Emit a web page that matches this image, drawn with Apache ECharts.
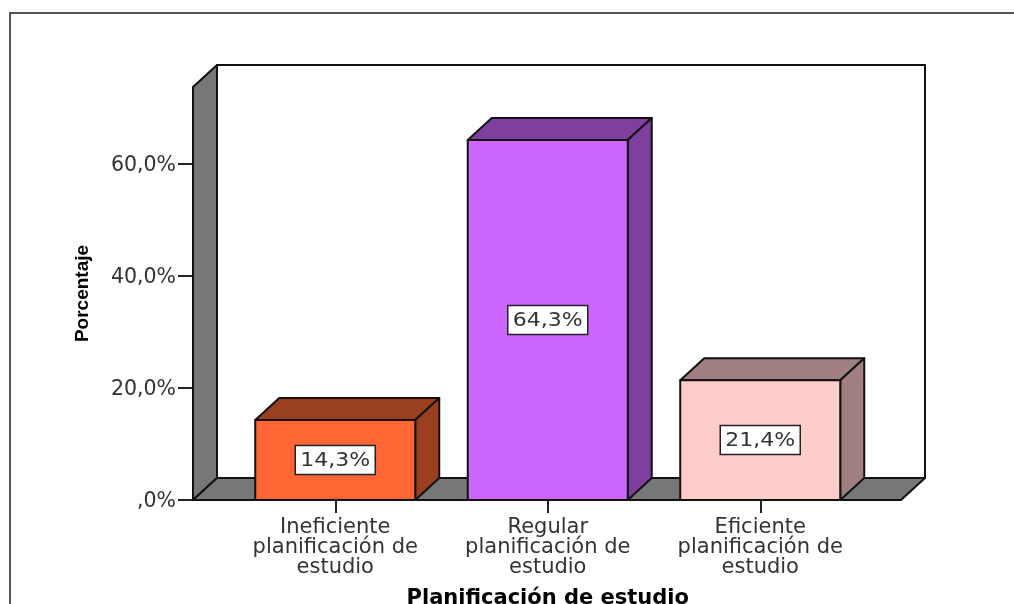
<!DOCTYPE html>
<html><head><meta charset="utf-8">
<style>html,body{margin:0;padding:0;background:#fff}#c{width:1014px;height:604px}</style>
<script src="https://cdn.jsdelivr.net/npm/echarts@6/dist/echarts.min.js"></script>
</head><body><div id="c"></div>
<script>
const categories = ["Ineficiente\nplanificación de\nestudio", "Regular\nplanificación de\nestudio", "Eficiente\nplanificación de\nestudio"];
const values = [14.3, 64.3, 21.4];
const valueLabels = ["14,3%", "64,3%", "21,4%"];
const yTicks = [0, 20, 40, 60];
const frontColors = ["#FF6633", "#CC66FF", "#FFCCCC"];
const shadeColors = ["#9A3F20", "#7F3F9F", "#9F7F7F"];
const xName = "Planificación de estudio";
const yName = "Porcentaje";

const DX = 24, DY = -22, FONT = "DejaVu Sans";
const chart = echarts.init(document.getElementById("c"), null, {renderer: "canvas"});
const edge = {stroke: "#111", lineWidth: 2, lineJoin: "round"};
const poly = (pts, fill) => ({type: "polygon", shape: {points: pts}, style: Object.assign({fill}, edge)});

function renderWalls(params, api) {
  const cs = params.coordSys;
  const l = cs.x - 36, r = cs.x + cs.width + 34.5, t = cs.y, b = cs.y + cs.height;
  return {type: "group", children: [
    poly([[l+DX,t+DY],[r+DX,t+DY],[r+DX,b+DY],[l+DX,b+DY]], "#fff"),
    poly([[l,t],[l+DX,t+DY],[l+DX,b+DY],[l,b]], "#777"),
    poly([[l,b],[l+DX,b+DY],[r+DX,b+DY],[r,b]], "#777")
  ]};
}
function renderBar(params, api) {
  const i = api.value(0), v = api.value(1);
  const top = api.coord([i, v]), base = api.coord([i, 0]);
  const hw = api.size([1, 0])[0] * 0.753 / 2;
  const x0 = top[0] - hw, x1 = top[0] + hw, y0 = top[1], y1 = base[1];
  const mid = (y0 + y1) / 2;
  return {type: "group", children: [
    poly([[x0,y0],[x0+DX,y0+DY],[x1+DX,y0+DY],[x1,y0]], shadeColors[i]),
    poly([[x1,y0],[x1+DX,y0+DY],[x1+DX,y1+DY],[x1,y1]], shadeColors[i]),
    poly([[x0,y0],[x1,y0],[x1,y1],[x0,y1]], frontColors[i]),
    {type: "rect", shape: {x: top[0]-40, y: mid-14.5, width: 80, height: 29},
     style: {fill: "#fff", stroke: "#222", lineWidth: 1.5}},
    {type: "text", x: top[0], y: mid+0.5, scaleX: 1.1,
     style: {text: valueLabels[i], fill: "#333", font: "20px '"+FONT+"'", textAlign: "center", textVerticalAlign: "middle"}}
  ]};
}

chart.setOption({
  animation: false,
  backgroundColor: "#fff",
  graphic: [{type: "polyline", silent: true,
    shape: {points: [[10,604],[10,13],[1014,13]]},
    style: {stroke: "#555", lineWidth: 2, fill: null}}],
  grid: {left: 229, top: 87, width: 637.5, height: 413, outerBoundsMode: "none", containLabel: false},
  xAxis: {
    type: "category", data: categories,
    axisLine: {show: false},
    axisTick: {show: true, alignWithLabel: true, length: 13, lineStyle: {color: "#222", width: 2}},
    axisLabel: {color: "#333", fontFamily: FONT, fontSize: 21, lineHeight: 20, margin: 18, interval: 0},
    name: xName, nameLocation: "middle", nameGap: 99,
    nameTextStyle: {color: "#000", fontFamily: FONT, fontWeight: "bold", fontSize: 21, lineHeight: 20, height: 20, verticalAlign: "middle"}
  },
  yAxis: {
    type: "value", min: 0, max: 73.75, offset: 36,
    splitLine: {show: false},
    axisLine: {show: true, lineStyle: {color: "#111", width: 2}},
    axisTick: {show: true, length: 15, customValues: yTicks, lineStyle: {color: "#222", width: 2}},
    axisLabel: {color: "#333", fontFamily: FONT, fontSize: 20.5, margin: 17, verticalAlign: "top", lineHeight: 4, customValues: yTicks,
      formatter: v => v === 0 ? ",0%" : v.toFixed(1).replace(".", ",") + "%"},
    name: yName, nameLocation: "middle", nameGap: 101, nameRotate: 90,
    nameTextStyle: {color: "#000", fontFamily: "Liberation Sans", fontWeight: "bold", fontSize: 19}
  },
  series: [
    {type: "custom", renderItem: renderWalls, data: [[0, 0]], silent: true, clip: false, z: 1},
    {type: "custom", renderItem: renderBar, data: values.map((v, i) => [i, v]), silent: true, clip: false, z: 2}
  ]
});
</script></body></html>
